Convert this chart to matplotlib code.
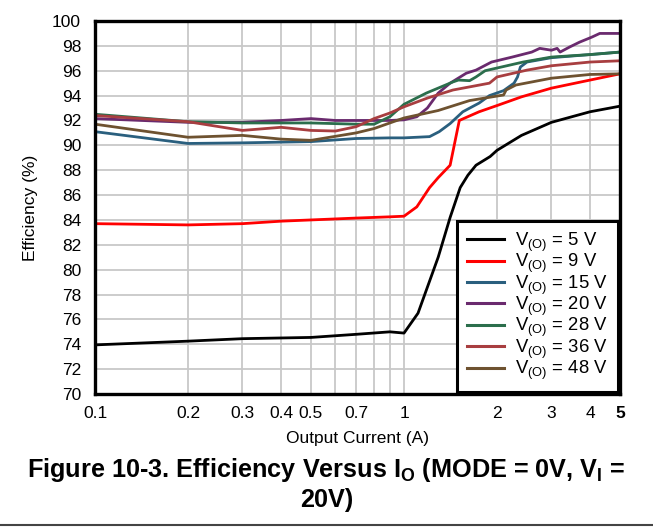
import matplotlib
matplotlib.use("Agg")
import matplotlib.pyplot as plt
from matplotlib.ticker import FixedLocator, NullFormatter, NullLocator

plt.rcParams['font.family'] = ['Liberation Sans', 'DejaVu Sans']

# ---- data ----
x_5v = [0.1, 0.2, 0.3, 0.5, 0.7, 0.9, 1.0, 1.11, 1.29, 1.41, 1.52, 1.61, 1.71, 1.9, 2.0, 2.4, 3.0, 4.0, 5.0]
y_5v = [73.95, 74.25, 74.45, 74.55, 74.8, 75.0, 74.9, 76.5, 81.0, 84.2, 86.6, 87.6, 88.4, 89.1, 89.6, 90.8, 91.85, 92.7, 93.15]

x_9v = [0.1, 0.2, 0.3, 0.4, 0.5, 0.7, 0.9, 1.0, 1.1, 1.21, 1.29, 1.41, 1.51, 1.75, 2.0, 2.4, 3.0, 4.0, 5.0]
y_9v = [83.7, 83.6, 83.7, 83.9, 84.0, 84.15, 84.25, 84.3, 85.05, 86.6, 87.4, 88.4, 92.0, 92.7, 93.2, 93.9, 94.6, 95.25, 95.75]

x_15v = [0.1, 0.2, 0.3, 0.5, 0.7, 0.9, 1.0, 1.21, 1.3, 1.41, 1.55, 1.75, 1.89, 2.1, 2.27, 2.33, 2.38, 2.5, 3.0, 4.0, 5.0]
y_15v = [91.1, 90.15, 90.2, 90.3, 90.55, 90.6, 90.6, 90.7, 91.1, 91.75, 92.7, 93.4, 94.0, 94.4, 95.0, 95.5, 96.3, 96.7, 97.05, 97.3, 97.5]

x_20v = [0.1, 0.2, 0.3, 0.4, 0.5, 0.6, 0.7, 0.9, 1.0, 1.1, 1.19, 1.29, 1.41, 1.59, 1.71, 1.92, 2.24, 2.59, 2.75, 3.0, 3.13, 3.2, 3.43, 3.7, 4.05, 4.3, 5.0]
y_20v = [92.15, 91.85, 91.85, 92.0, 92.15, 92.0, 92.0, 92.0, 92.05, 92.3, 93.0, 94.2, 95.0, 95.8, 96.05, 96.7, 97.1, 97.5, 97.8, 97.65, 97.8, 97.5, 97.9, 98.3, 98.7, 99.0, 99.0]

x_28v = [0.1, 0.2, 0.3, 0.5, 0.7, 0.8, 0.9, 1.0, 1.18, 1.44, 1.5, 1.63, 1.71, 1.83, 2.43, 3.0, 4.0, 5.0]
y_28v = [92.5, 91.9, 91.8, 91.8, 91.7, 91.7, 92.3, 93.3, 94.2, 95.1, 95.25, 95.2, 95.5, 96.0, 96.7, 97.1, 97.3, 97.5]

x_36v = [0.1, 0.2, 0.3, 0.4, 0.5, 0.6, 0.7, 0.8, 0.9, 1.0, 1.19, 1.44, 1.89, 2.0, 2.5, 3.0, 4.0, 5.0]
y_36v = [92.4, 91.9, 91.2, 91.45, 91.2, 91.15, 91.5, 92.15, 92.6, 93.1, 93.8, 94.45, 95.0, 95.5, 96.05, 96.4, 96.7, 96.8]

x_48v = [0.1, 0.2, 0.3, 0.4, 0.5, 0.7, 0.8, 0.9, 1.0, 1.29, 1.63, 2.1, 2.14, 2.3, 3.0, 4.0, 5.0]
y_48v = [91.7, 90.65, 90.8, 90.5, 90.4, 91.0, 91.35, 91.8, 92.2, 92.8, 93.6, 94.05, 94.45, 94.85, 95.4, 95.7, 95.75]

series = [
    ("V$_\\mathregular{(O)}$ = 5 V", x_5v, y_5v, "#000000"),
    ("V$_\\mathregular{(O)}$ = 9 V", x_9v, y_9v, "#ff0000"),
    ("V$_\\mathregular{(O)}$ = 15 V", x_15v, y_15v, "#2a5f7e"),
    ("V$_\\mathregular{(O)}$ = 20 V", x_20v, y_20v, "#6a2a6e"),
    ("V$_\\mathregular{(O)}$ = 28 V", x_28v, y_28v, "#2b6e4c"),
    ("V$_\\mathregular{(O)}$ = 36 V", x_36v, y_36v, "#a83e40"),
    ("V$_\\mathregular{(O)}$ = 48 V", x_48v, y_48v, "#6e5230"),
]

xticks = [0.1, 0.2, 0.3, 0.4, 0.5, 0.7, 1, 2, 3, 4, 5]
xticklabels = ["0.1", "0.2", "0.3", "0.4", "0.5", "0.7", "1", "2", "3", "4", "5"]
xgrid = [0.1, 0.2, 0.3, 0.4, 0.5, 0.6, 0.7, 0.8, 0.9, 1, 2, 3, 4, 5]
yticks = list(range(70, 101, 2))

fig = plt.figure(figsize=(6.53, 5.29), dpi=100)
ax = fig.add_axes([95/653, 1 - 394/529, (620-95)/653, (394-21)/529])

for lab, xs, ys, c in series:
    ax.plot(xs, ys, color=c, lw=2.0, label=lab, solid_joinstyle='round')

ax.set_xscale('log')
ax.set_xlim(0.1, 5)
ax.set_ylim(70, 100)
for g in xgrid:
    ax.axvline(g, color='#c8c8c8', lw=1.3, zorder=0)
for g in yticks:
    ax.axhline(g, color='#c8c8c8', lw=1.3, zorder=0)

ax.xaxis.set_major_locator(FixedLocator(xticks))
ax.set_xticklabels(xticklabels)
ax.xaxis.set_minor_locator(NullLocator())
ax.xaxis.set_minor_formatter(NullFormatter())
ax.set_yticks(yticks)
ax.tick_params(axis='y', length=0, labelsize=12.5, pad=10)
ax.tick_params(axis='x', length=0, labelsize=12.5, pad=9)
ax.get_xticklabels()[-1].set_fontweight('bold')

for s in ax.spines.values():
    s.set_linewidth(2.4)
    s.set_color('black')

ax.set_xlabel("Output Current (A)", fontsize=12.5, labelpad=7)
ax.set_ylabel("Efficiency (%)", fontsize=12.5, labelpad=10)

leg = ax.legend(loc='lower right', fontsize=13.3, frameon=True, fancybox=False,
                borderaxespad=0.1, handlelength=2.0, handletextpad=0.6,
                labelspacing=-0.1, borderpad=0.55)
leg.get_frame().set_edgecolor('black')
leg.get_frame().set_linewidth(2.2)
leg.get_frame().set_alpha(1)
for h in leg.get_lines():
    h.set_linewidth(2.2)

fig.text(0.5, 1 - 470/529, "Figure 10-3. Efficiency Versus I$_\\mathregular{O}$ (MODE = 0V, V$_\\mathregular{I}$ =",
         ha='center', va='center', fontsize=18.2, fontweight='bold')
fig.text(0.5, 1 - 500/529, "20V)", ha='center', va='center', fontsize=18.2, fontweight='bold')
fig.add_artist(plt.Line2D([0, 1], [1 - 525/529, 1 - 525/529], color='#444444', lw=1.5,
                          transform=fig.transFigure))

fig.savefig("out.png", dpi=100)
